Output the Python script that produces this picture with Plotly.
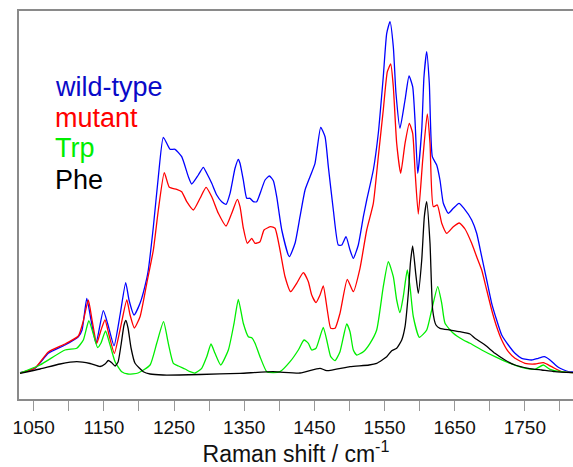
import plotly.graph_objects as go

# Raman spectra (intensity in arbitrary units, baseline ~0)
wt_shift = [1030.5, 1051.9, 1070.8, 1094.6, 1113.6, 1118.9, 1125.6, 1131.7, 1138.8, 1149.2,
            1155.9, 1164.5, 1173.0, 1181.1, 1185.8, 1193.0, 1201.5, 1211.1, 1213.3, 1220.5,
            1227.6, 1234.7, 1244.3, 1251.4, 1260.9, 1270.4, 1275.2, 1284.6, 1291.7, 1296.6,
            1303.7, 1310.8, 1317.9, 1324.1, 1329.8, 1336.9, 1341.6, 1344.0, 1348.7, 1353.6,
            1358.3, 1363.0, 1367.8, 1373.5, 1379.7, 1385.8, 1391.5, 1396.3, 1403.5, 1414.3,
            1422.4, 1429.5, 1436.7, 1443.8, 1450.9, 1459.0, 1465.2, 1469.9, 1477.0, 1484.1,
            1489.0, 1495.1, 1500.8, 1505.5, 1512.6, 1519.8, 1524.6, 1534.0, 1541.1, 1548.2,
            1553.1, 1557.8, 1562.5, 1566.3, 1572.0, 1579.2, 1584.9, 1590.1, 1593.4, 1597.3,
            1603.0, 1606.2, 1610.1, 1613.8, 1618.1, 1624.3, 1629.0, 1633.8, 1640.9, 1648.0,
            1656.1, 1663.2, 1674.2, 1681.3, 1688.5, 1695.6, 1702.7, 1709.8, 1717.0, 1726.4,
            1735.9, 1745.5, 1759.7, 1769.1, 1777.7, 1785.8, 1797.6, 1811.9, 1818.6]
wt_int = [2.3, 6.7, 21.7, 30, 38.3, 45, 76.7, 55, 31.7, 64.3,
          50, 29.3, 60, 92.3, 75, 60, 71.7, 96.7, 105, 148.3,
          198.3, 237.7, 225.7, 225.7, 218.3, 198.3, 191, 200, 207.7, 201.7,
          191.7, 180, 173.3, 170.7, 181.7, 206.7, 215.7, 211.7, 195, 176.7,
          176.7, 173.3, 173.3, 183.3, 195, 199, 194.3, 178.3, 145, 118.3,
          131.7, 158.3, 185, 198.3, 211.7, 247.7, 238.3, 208.3, 165, 130,
          130, 138.3, 125, 116.7, 130, 158.3, 175, 205, 241.7, 298.3,
          341.7, 353.3, 328.3, 281.7, 246.7, 275, 299, 288.3, 255, 201.7,
          245, 298.3, 323.3, 291.7, 218.3, 210, 195, 171.7, 161.7, 166.7,
          171.7, 166.7, 155, 141.7, 118.3, 95, 71.7, 55, 40, 30,
          21.7, 16.7, 15, 16.7, 18.3, 15, 7.7, 3.3, 3]

mut_shift = [1030.5, 1051.9, 1070.8, 1094.6, 1113.6, 1120.3, 1127.8, 1133.1, 1139.8, 1145.9,
             1151.6, 1157.3, 1164.9, 1173.0, 1182.6, 1187.3, 1193.4, 1201.5, 1211.1, 1220.5,
             1227.6, 1236.1, 1243.3, 1253.8, 1260.9, 1268.1, 1277.5, 1287.0, 1295.6, 1303.7,
             1313.1, 1324.1, 1332.2, 1340.2, 1344.0, 1348.7, 1354.4, 1360.7, 1365.4, 1372.5,
             1378.2, 1387.8, 1393.9, 1401.0, 1408.2, 1416.3, 1424.8, 1434.2, 1441.4, 1446.2,
             1452.3, 1458.0, 1462.7, 1468.4, 1473.3, 1479.4, 1486.5, 1496.9, 1505.5, 1515.0,
             1524.6, 1534.0, 1541.1, 1548.2, 1554.0, 1558.8, 1562.5, 1567.3, 1573.0, 1579.2,
             1585.3, 1590.1, 1593.4, 1598.1, 1604.4, 1610.9, 1614.8, 1619.5, 1625.2, 1631.5,
             1638.6, 1648.0, 1656.5, 1664.7, 1674.2, 1681.3, 1688.5, 1695.6, 1702.7, 1709.8,
             1717.0, 1726.4, 1735.9, 1750.2, 1764.4, 1776.3, 1788.2, 1802.5, 1818.6]
mut_int = [2, 7, 23, 31, 39, 53, 75, 55, 31.7, 45,
           55, 40, 21.7, 45, 75, 60, 47, 58.3, 91.7, 125,
           165, 202.3, 187.7, 185.7, 183.3, 173.3, 165, 176.7, 187.7, 178.3,
           161.7, 149, 161.7, 175.7, 168.3, 147, 131.7, 136.7, 131.7, 133.3,
           145, 148.3, 146.7, 125, 98.3, 83.3, 91.7, 102.3, 93.3, 80,
           72.3, 80, 89, 65, 46.7, 46.7, 61.7, 95.7, 83.3, 106.7,
           145, 171.7, 218.3, 265, 303.3, 311, 288.3, 231.7, 201.7, 231.7,
           251.7, 241.7, 205, 161, 215, 261, 231.7, 168.3, 170, 151.7,
           141.7, 148.3, 152, 146, 131.7, 118.3, 105, 85, 65, 48.3,
           35, 23.3, 16.7, 11.7, 11, 12.3, 8.3, 3.3, 2.3]

trp_shift = [1030.5, 1059.0, 1094.6, 1111.3, 1120.7, 1128.5, 1134.5, 1141.0, 1145.9, 1152.3,
             1158.8, 1165.9, 1175.4, 1184.4, 1198.7, 1215.8, 1225.3, 1235.0, 1241.8, 1249.0,
             1256.1, 1265.6, 1272.8, 1279.9, 1289.4, 1296.6, 1302.7, 1308.4, 1316.5, 1327.4,
             1335.5, 1341.6, 1348.7, 1355.9, 1361.1, 1365.4, 1372.5, 1382.1, 1391.0, 1401.0,
             1415.3, 1427.1, 1435.2, 1441.4, 1446.2, 1452.3, 1458.0, 1462.7, 1467.6, 1473.3,
             1479.4, 1486.5, 1496.1, 1500.8, 1505.5, 1510.3, 1519.8, 1529.3, 1538.8, 1548.2,
             1555.4, 1562.5, 1567.3, 1572.0, 1576.7, 1582.4, 1586.3, 1591.0, 1599.6, 1610.1,
             1617.2, 1625.8, 1631.5, 1636.2, 1648.0, 1662.3, 1671.8, 1688.5, 1707.4, 1726.4,
             1745.5, 1764.4, 1776.3, 1785.8, 1802.5, 1818.6]
trp_int = [2, 10, 25, 26.7, 35, 54.3, 42, 27.5, 32, 44,
           30, 13.3, 3.3, 1, 2, 10, 31.7, 53.3, 31.7, 11.7,
           9, 6, 3.3, 2, 6.7, 18.3, 31, 21.7, 10, 25,
           51.7, 75.7, 51.7, 38.3, 37, 31.7, 18.3, 3.3, 2.5, 3.3,
           13.3, 25, 35, 31.7, 25, 26.7, 38.3, 47.7, 35, 18.3,
           14.3, 23.3, 51, 43.3, 25, 20, 23.3, 31.7, 45, 88.3,
           113.3, 98.3, 75, 62.3, 78.3, 105, 88.3, 58.3, 37.7, 45,
           65, 88.3, 71.7, 51.7, 41.7, 35, 31.7, 25, 18.3, 12.3,
           7.7, 5.7, 10, 5.7, 3.3, 2.3]

phe_shift = [1030.5, 1059.0, 1087.5, 1111.3, 1130.3, 1144.5, 1151.6, 1156.3, 1161.6, 1165.9,
             1170.2, 1174.4, 1178.7, 1181.3, 1184.4, 1188.7, 1194.4, 1206.2, 1215.8, 1234.3,
             1287.0, 1344.0, 1391.0, 1429.5, 1458.0, 1467.6, 1500.8, 1527.9, 1538.8, 1553.1,
             1560.2, 1567.3, 1574.5, 1579.2, 1583.9, 1587.0, 1590.1, 1594.4, 1598.1, 1603.0,
             1606.7, 1610.1, 1614.8, 1618.6, 1623.3, 1629.0, 1643.3, 1657.5, 1671.8, 1678.9,
             1693.2, 1707.4, 1721.7, 1735.9, 1754.9, 1774.0, 1792.9, 1818.6]
phe_int = [1.7, 6, 11, 13.3, 11.5, 8.5, 11, 14.5, 12, 9,
           13, 30, 50, 54.5, 47, 27, 11.7, 3.3, 1, 0,
           0.5, 1.7, 3.3, 2, 6.7, 4.3, 8.3, 10, 11.7, 18.3,
           24.3, 26.7, 35, 48.3, 81.7, 113, 129, 101.7, 81.7, 115,
           158.3, 173.3, 131.7, 65, 50, 46.7, 45, 43.3, 41, 36.7,
           30, 21.7, 15, 10, 6.7, 5, 3.3, 2.3]

series_names = ["wild-type", "mutant", "Trp", "Phe"]
line_colors = ["#0000ff", "#ff0000", "#00ee00", "#000000"]
label_colors = ["#0a0ac8", "#ff0000", "#00ee00", "#000000"]

# labelled ticks every 100 cm-1, unlabelled minor ticks in between
tick_values = list(range(1050, 1751, 100))
tick_labels = [str(v) for v in tick_values]

fig = go.Figure()
for name, xs, ys, col in zip(series_names,
                             [wt_shift, mut_shift, trp_shift, phe_shift],
                             [wt_int, mut_int, trp_int, phe_int],
                             line_colors):
    fig.add_trace(go.Scatter(x=xs, y=ys, mode="lines", name=name,
                             line=dict(color=col, width=1.3, shape="spline", smoothing=0.5)))

# coloured text labels in place of a legend box
label_y = [0.803, 0.725, 0.647, 0.565]
for name, col, yy in zip(series_names, label_colors, label_y):
    fig.add_annotation(text=name, xref="paper", yref="paper", x=0.062, y=yy,
                       xanchor="left", yanchor="middle", showarrow=False,
                       font=dict(family="Liberation Sans, Arial", size=27, color=col))

fig.update_layout(
    width=573, height=467,
    margin=dict(l=19, r=0, t=11, b=68),
    paper_bgcolor="white", plot_bgcolor="white",
    showlegend=False,
    font=dict(family="Liberation Sans, Arial", color="#111111"),
    xaxis=dict(range=[1029, 1818.6], tickmode="array", tickvals=tick_values, ticktext=tick_labels,
               ticks="outside", ticklen=10, tickwidth=1, tickcolor="#999999",
               minor=dict(ticks="outside", ticklen=10, tickwidth=1, tickcolor="#999999",
                          tick0=1050, dtick=50, showgrid=False),
               showline=True, linecolor="#8a8a8a", linewidth=2, mirror=True,
               showgrid=False, zeroline=False,
               tickfont=dict(size=19, color="#111111"),
               title=dict(text="Raman shift / cm<sup>-1</sup>", font=dict(size=23, color="#111111"),
                          standoff=6)),
    yaxis=dict(range=[-24, 364], showticklabels=False, ticks="",
               showline=True, linecolor="#8a8a8a", linewidth=2, mirror=False,
               showgrid=False, zeroline=False),
)

fig.write_html("out.html")
